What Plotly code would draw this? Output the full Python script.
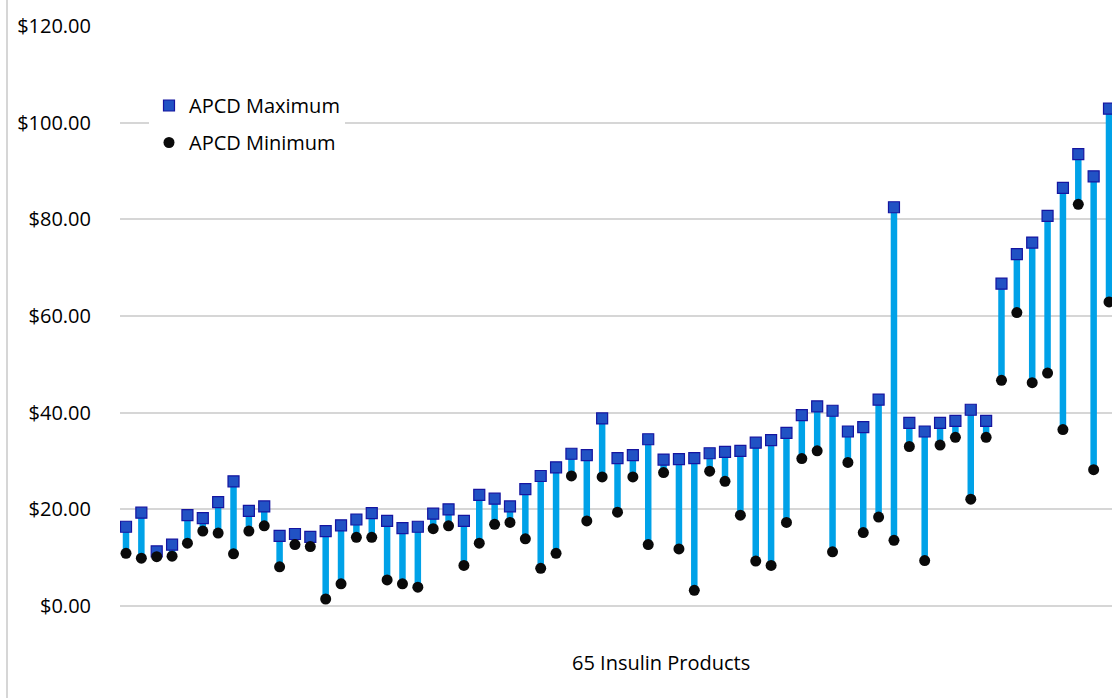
import plotly.graph_objects as go

products = list(range(1, 66))

apcd_max = [16.4, 19.3, 11.3, 12.7, 18.8, 18.2, 21.5, 25.8, 19.7, 20.6,
            14.5, 14.9, 14.3, 15.5, 16.7, 17.9, 19.2, 17.6, 16.1, 16.4,
            19.1, 20.0, 17.6, 23.0, 22.2, 20.6, 24.2, 26.9, 28.7, 31.5,
            31.2, 38.8, 30.6, 31.2, 34.5, 30.3, 30.4, 30.6, 31.6, 31.9,
            32.1, 33.8, 34.3, 35.8, 39.5, 41.3, 40.4, 36.1, 37.0, 42.7,
            82.5, 37.9, 36.1, 37.9, 38.3, 40.6, 38.3, 66.7, 72.8, 75.2,
            80.7, 86.5, 93.5, 88.9, 102.9]

apcd_min = [10.9, 9.9, 10.2, 10.3, 13.0, 15.5, 15.1, 10.8, 15.5, 16.6,
            8.1, 12.7, 12.3, 1.45, 4.6, 14.2, 14.2, 5.4, 4.6, 3.9,
            16.0, 16.6, 8.4, 13.0, 16.9, 17.3, 13.9, 7.8, 10.9, 26.9,
            17.6, 26.7, 19.4, 26.7, 12.7, 27.6, 11.8, 3.25, 27.9, 25.8,
            18.8, 9.3, 8.4, 17.3, 30.5, 32.1, 11.2, 29.7, 15.2, 18.4,
            13.6, 33.0, 9.4, 33.3, 34.9, 22.1, 34.9, 46.7, 60.7, 46.2,
            48.2, 36.5, 83.1, 28.2, 62.9]

y_ticks = [0, 20, 40, 60, 80, 100, 120]

# vertical range bars built from the data arrays
bar_x, bar_y = [], []
for p, lo, hi in zip(products, apcd_min, apcd_max):
    bar_x += [p, p, None]
    bar_y += [lo, hi, None]

FONT = "Open Sans"
W, H = 1112, 698
L, R, T, B = 120, 0, 26, 92
PW, PH = W - L - R, H - T - B


def px_x(px):
    return (px - L) / PW


def px_y(py):
    return (H - B - py) / PH


fig = go.Figure()
fig.add_trace(go.Scatter(
    x=bar_x, y=bar_y, mode="lines",
    line=dict(color="#00A2E8", width=6.5),
    showlegend=False, hoverinfo="skip"))
fig.add_trace(go.Scatter(
    x=products, y=apcd_max, mode="markers", name="APCD Maximum",
    legendgroup="a",
    marker=dict(symbol="square", size=11, color="#2152C4",
                line=dict(color="#1515A0", width=1.2))))
fig.add_trace(go.Scatter(
    x=products, y=apcd_min, mode="markers", name="APCD Minimum",
    legendgroup="b",
    marker=dict(symbol="circle", size=11, color="#0a0a0a",
                line=dict(width=0))))

fig.update_layout(
    width=W, height=H,
    margin=dict(l=L, r=R, t=T, b=B),
    paper_bgcolor="white", plot_bgcolor="white",
    font=dict(family=FONT, size=20, color="#000000"),
    legend=dict(x=px_x(149), y=px_y(86), xanchor="left", yanchor="top",
                bgcolor="white", font=dict(family=FONT, size=20),
                traceorder="grouped", tracegroupgap=8),
    xaxis=dict(range=[0.609, 65.195], showticklabels=False, showgrid=False,
               zeroline=False, showline=False, ticks=""),
    yaxis=dict(range=[0, 120], tickvals=y_ticks, tickformat="$,.2f",
               showgrid=True, gridcolor="#d6d6d6", gridwidth=1.5,
               zeroline=True, zerolinecolor="#d6d6d6", zerolinewidth=1.5,
               showline=False, ticks="", ticklabelstandoff=28,
               tickfont=dict(family=FONT, size=20)),
    annotations=[dict(text="65 Insulin Products", xref="paper", yref="paper",
                      x=px_x(660.5), y=px_y(662), xanchor="center",
                      yanchor="middle", showarrow=False,
                      font=dict(family=FONT, size=20))],
    shapes=[dict(type="line", xref="paper", yref="paper",
                 x0=px_x(7), x1=px_x(7), y0=px_y(698), y1=px_y(0),
                 line=dict(color="#c8c8c8", width=1.5)),
            dict(type="rect", xref="paper", yref="paper", layer="between",
                 x0=px_x(130), x1=px_x(362), y0=px_y(160), y1=px_y(88),
                 fillcolor="white", line=dict(width=0))],
)

fig.write_html("out.html")
